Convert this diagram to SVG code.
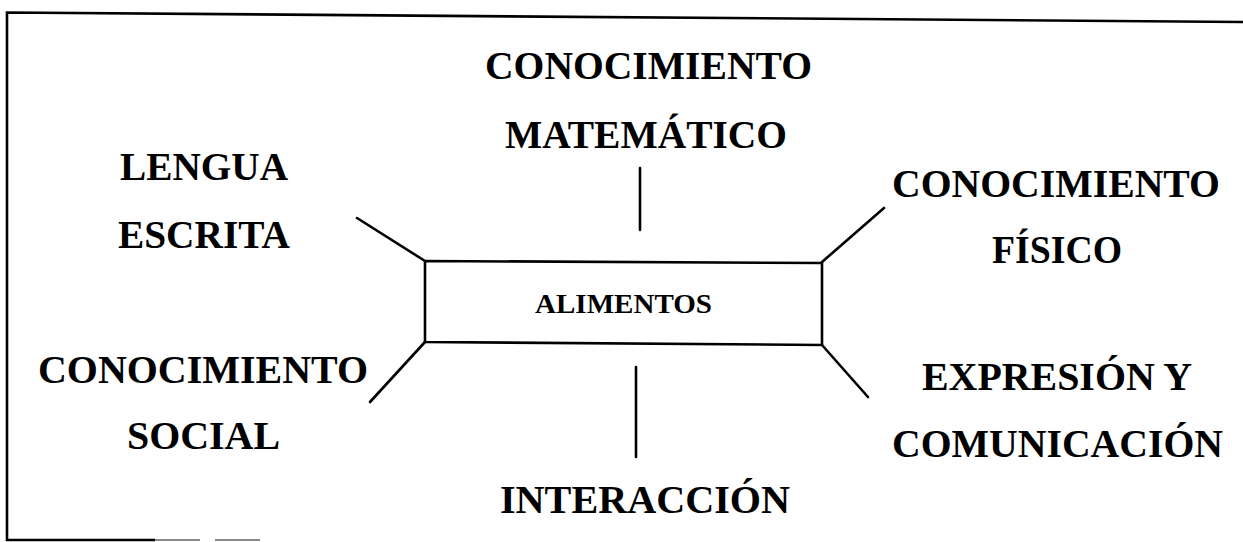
<svg xmlns="http://www.w3.org/2000/svg" width="1243" height="542" viewBox="0 0 1243 542">
<style>
.lbl{font-family:"Liberation Serif","Times New Roman",serif;font-weight:bold;font-size:40px;fill:#000}
.small{font-size:28px}
.ln{stroke:#000;stroke-width:2.6;fill:none;stroke-linecap:round}
.frame{stroke:#000;stroke-width:2.6;fill:none}
</style>
<rect width="1243" height="542" fill="#fff"/>
<g id="frame">
<polyline class="frame" points="1243,22 7,12.5 7,540 155,540"/>
<line x1="155" y1="540" x2="200" y2="540" stroke="#888" stroke-width="2"/>
<line x1="215" y1="540" x2="260" y2="540" stroke="#888" stroke-width="2"/>
</g>
<g id="connectors">
<line class="ln" x1="640" y1="168" x2="640" y2="230"/>
<line class="ln" x1="636" y1="367" x2="636" y2="457"/>
<line class="ln" x1="357" y1="218" x2="425" y2="261"/>
<line class="ln" x1="822" y1="262" x2="884" y2="208"/>
<line class="ln" x1="425" y1="342" x2="370" y2="402"/>
<line class="ln" x1="822" y1="345" x2="868" y2="397"/>
</g>
<g id="alimentos">
<polygon class="frame" points="425,261 822,263 822,345 425,342"/>
<text class="lbl small" x="535" y="313" textLength="177" lengthAdjust="spacingAndGlyphs">ALIMENTOS</text>
</g>
<g id="matematico">
<text class="lbl" x="485" y="79" textLength="327" lengthAdjust="spacingAndGlyphs">CONOCIMIENTO</text>
<text class="lbl" x="505" y="148" textLength="282" lengthAdjust="spacingAndGlyphs">MATEMÁTICO</text>
</g>
<g id="lengua">
<text class="lbl" x="120" y="180" textLength="168" lengthAdjust="spacingAndGlyphs">LENGUA</text>
<text class="lbl" x="118" y="248" textLength="172" lengthAdjust="spacingAndGlyphs">ESCRITA</text>
</g>
<g id="fisico">
<text class="lbl" x="892" y="197" textLength="328" lengthAdjust="spacingAndGlyphs">CONOCIMIENTO</text>
<text class="lbl" x="992" y="263" textLength="130" lengthAdjust="spacingAndGlyphs">FÍSICO</text>
</g>
<g id="social">
<text class="lbl" x="38" y="383" textLength="330" lengthAdjust="spacingAndGlyphs">CONOCIMIENTO</text>
<text class="lbl" x="127" y="449" textLength="153" lengthAdjust="spacingAndGlyphs">SOCIAL</text>
</g>
<g id="expresion">
<text class="lbl" x="922" y="390" textLength="270" lengthAdjust="spacingAndGlyphs">EXPRESIÓN Y</text>
<text class="lbl" x="892" y="457" textLength="331" lengthAdjust="spacingAndGlyphs">COMUNICACIÓN</text>
</g>
<g id="interaccion">
<text class="lbl" x="500" y="513" textLength="290" lengthAdjust="spacingAndGlyphs">INTERACCIÓN</text>
</g>
</svg>
